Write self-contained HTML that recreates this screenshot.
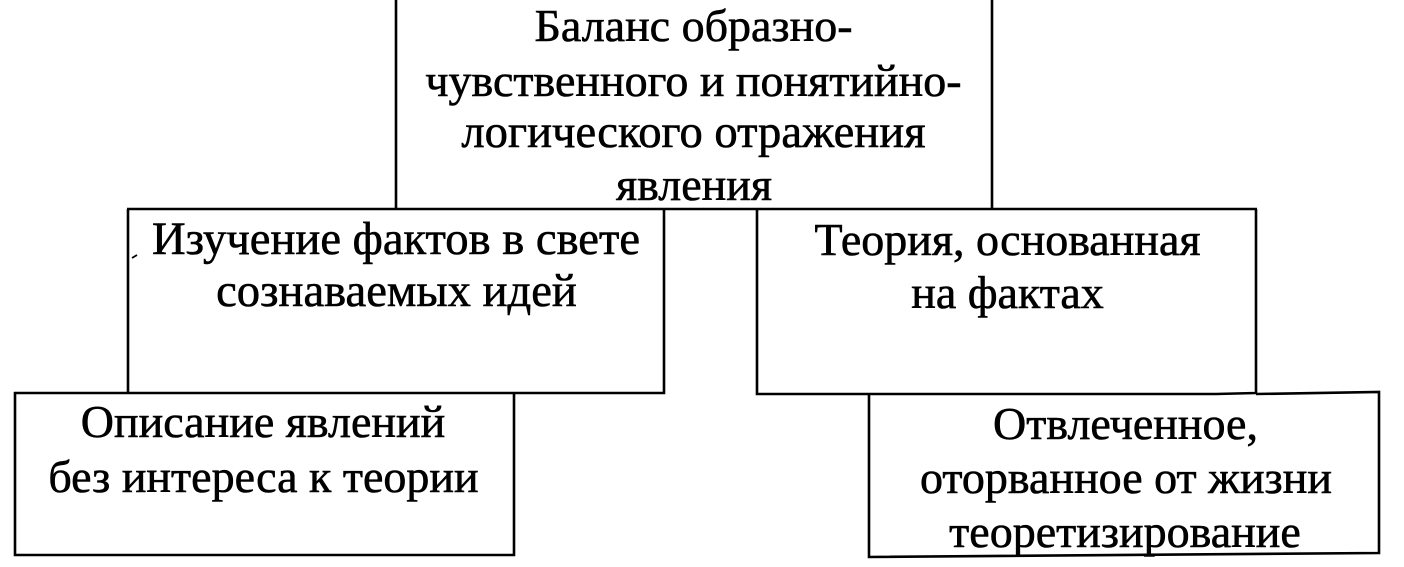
<!DOCTYPE html>
<html lang="ru">
<head>
<meta charset="utf-8">
<style>
html,body{margin:0;padding:0;background:#fff}
#c{position:relative;width:1404px;height:567px;overflow:hidden;background:#fff;font-family:"Liberation Serif",serif;color:#000}
svg{position:absolute;left:0;top:0}
.t{position:absolute;white-space:nowrap;font-size:46px;line-height:56px;transform:translateX(-50%);-webkit-text-stroke:0.6px #000}
.w{font-size:46.6px}
</style>
</head>
<body>
<div id="c">
<svg width="1404" height="567" viewBox="0 0 1404 567" fill="none" stroke="#000" stroke-width="2.6">
<!-- Top box -->
<path d="M396 0V209M992 0V209M127 209H1257"/>
<!-- Middle left box -->
<path d="M128 209V393M664 209V393H14"/>
<!-- Middle right box -->
<path d="M757 209V394H1216L1256 393M1256 209V393"/>
<!-- Bottom left box -->
<path d="M15 392V555H514V393"/>
<!-- Bottom right box -->
<path d="M869 394V557L1379 553V392L1256 394"/>
<!-- Speck -->
<path d="M132 258L137 255" stroke-width="1.8"/>
</svg>
<div class="t" style="left:693.5px;top:-2px">Баланс образно-</div>
<div class="t" style="left:693.5px;top:53px">чувственного и понятийно-</div>
<div class="t w" style="left:693.5px;top:104px">логического отражения</div>
<div class="t" style="left:694px;top:157px">явления</div>
<div class="t w" style="left:396px;top:211px">Изучение фактов в свете</div>
<div class="t w" style="left:396.5px;top:263px">сознаваемых идей</div>
<div class="t" style="left:1007.5px;top:212px">Теория, основанная</div>
<div class="t" style="left:1007.5px;top:265px">на фактах</div>
<div class="t" style="left:263px;top:394px">Описание явлений</div>
<div class="t" style="left:263.5px;top:449px">без интереса к теории</div>
<div class="t" style="left:1125.5px;top:396px">Отвлеченное,</div>
<div class="t" style="left:1126px;top:450px">оторванное от жизни</div>
<div class="t" style="left:1125px;top:504px">теоретизирование</div>
</div>
</body>
</html>
